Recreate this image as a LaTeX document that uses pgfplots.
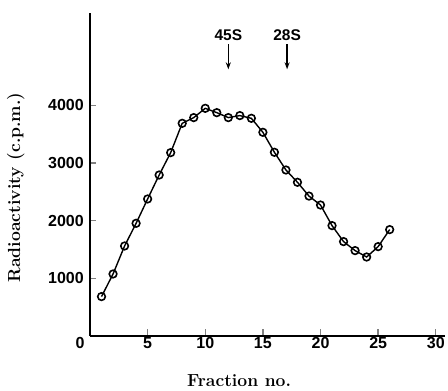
\documentclass[border=0pt]{standalone}
\usepackage{pgfplots}
\pgfplotsset{compat=1.18}
\usepackage{fontspec}
\newfontfamily\tickfont{Liberation Sans}
\usetikzlibrary{arrows.meta}
\begin{document}
\begin{tikzpicture}
\begin{axis}[
  at={(0pt,0pt)}, anchor=south west,
  scale only axis, width=355pt, height=323pt,
  xmin=0, xmax=30.8, ymin=0, ymax=5598,
  axis lines*=left,
  axis line style={line width=1.3pt},
  xtick={5,10,...,30}, ytick={1000,2000,3000,4000},
  extra x ticks={0},
  extra x tick style={major tick length=0pt, xticklabel style={xshift=-10pt}},
  tick align=inside,
  major tick length=6.5pt,
  tick style={line width=1.3pt},
  xticklabel style={font=\fontsize{16}{18}\selectfont\tickfont\bfseries, inner sep=1pt, yshift=0pt},
  yticklabel style={font=\fontsize{16}{18}\selectfont\tickfont\bfseries, inner sep=1pt, xshift=-5pt},
  /pgf/number format/assume math mode=true,
  /pgf/number format/1000 sep={},
  xlabel={Fraction no.},
  ylabel={Radioactivity (c.p.m.)},
  xlabel style={font=\fontsize{17.5}{20}\selectfont\bfseries, at={(axis description cs:0.42,0)}, anchor=north, yshift=-35pt},
  ylabel style={font=\fontsize{17.5}{20}\selectfont\bfseries, at={(axis description cs:0,0.46)}, anchor=south, yshift=62pt},
  clip=false,
]
\addplot[black, line width=1.4pt, mark=o, mark size=3.8pt, mark options={line width=1.6pt, fill=white}]
coordinates {
(1,683) (2,1075) (3,1560) (4,1953) (5,2375) (6,2790) (7,3178) (8,3686) (9,3785) (10,3946)
(11,3871) (12,3785) (13,3820) (14,3773) (15,3530) (16,3184) (17,2877) (18,2664) (19,2425) (20,2270)
(21,1913) (22,1636) (23,1480) (24,1369) (25,1549) (26,1844)
};
\draw[line width=1.3pt, -{Stealth[length=7pt, width=5pt]}] (axis cs:12,5055) -- (axis cs:12,4622);
\draw[line width=1.3pt, -{Stealth[length=7pt, width=5pt]}] (axis cs:17.1,5055) -- (axis cs:17.1,4622);
\node[font=\fontsize{15.5}{18}\selectfont\tickfont\bfseries, anchor=south, inner sep=1pt] at (axis cs:12,5090) {45S};
\node[font=\fontsize{15.5}{18}\selectfont\tickfont\bfseries, anchor=south, inner sep=1pt] at (axis cs:17.1,5090) {28S};
\end{axis}
\pgfresetboundingbox
\path[use as bounding box] (-90pt,-55pt) rectangle (358pt,336pt);
\end{tikzpicture}
\end{document}
